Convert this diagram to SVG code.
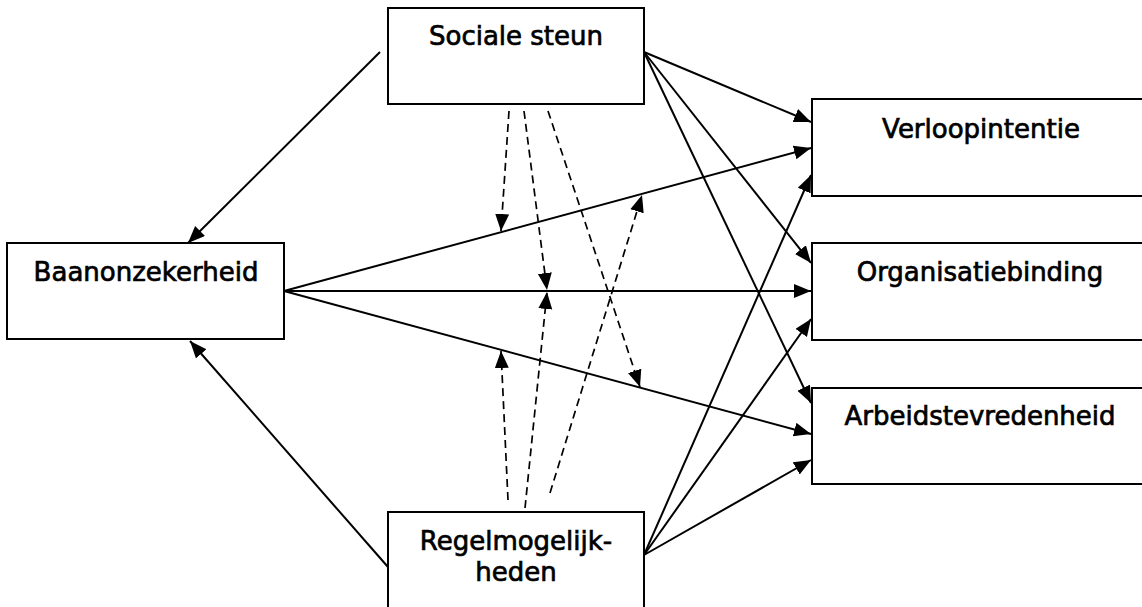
<svg xmlns="http://www.w3.org/2000/svg" width="1142" height="607" viewBox="0 0 1142 607">
<style>
.box{fill:#fff;stroke:#000;stroke-width:2}
.lbl{font-family:"DejaVu Sans",Verdana,sans-serif;font-size:26px;fill:#000;stroke:#000;stroke-width:0.7;text-anchor:middle}
.c{fill:none;stroke:#000;stroke-width:2;marker-end:url(#ah)}
.d{fill:none;stroke:#000;stroke-width:1.7;stroke-dasharray:8 5;marker-end:url(#ah)}
</style>
<defs>
<marker id="ah" markerUnits="userSpaceOnUse" markerWidth="19" markerHeight="16" refX="17" refY="7" orient="auto">
<path d="M0,0 L17,7 L0,14 z" fill="#000"/>
</marker>
</defs>
<rect width="1142" height="607" fill="#fff"/>
<g id="connectors">
<line class="c" x1="380" y1="52" x2="188" y2="243"/>
<line class="c" x1="388" y1="567" x2="190" y2="341"/>
<line class="c" x1="644" y1="52" x2="811" y2="122"/>
<line class="c" x1="644" y1="52" x2="811" y2="263"/>
<line class="c" x1="644" y1="52" x2="811" y2="403"/>
<line class="c" x1="284" y1="291" x2="811" y2="148"/>
<line class="c" x1="284" y1="291" x2="811" y2="291"/>
<line class="c" x1="284" y1="291" x2="811" y2="434"/>
<line class="c" x1="644" y1="555" x2="811" y2="175"/>
<line class="c" x1="644" y1="555" x2="811" y2="319"/>
<line class="c" x1="644" y1="555" x2="811" y2="460"/>
<line class="d" x1="509" y1="111" x2="501" y2="231"/>
<line class="d" x1="524" y1="111" x2="547" y2="290"/>
<line class="d" x1="548" y1="111" x2="640" y2="387"/>
<line class="d" x1="508" y1="500" x2="501" y2="351"/>
<line class="d" x1="525" y1="508" x2="547" y2="292"/>
<line class="d" x1="550" y1="493" x2="642" y2="195"/>
</g>
<g id="sociale-steun">
<rect class="box" x="388" y="8" width="256" height="96"/>
<text class="lbl" x="516" y="45">Sociale steun</text>
</g>
<g id="baanonzekerheid">
<rect class="box" x="7" y="243" width="277" height="96"/>
<text class="lbl" x="146" y="281">Baanonzekerheid</text>
</g>
<g id="regelmogelijkheden">
<rect class="box" x="388" y="512" width="256" height="100"/>
<text class="lbl" x="516" y="550">Regelmogelijk-</text>
<text class="lbl" x="516" y="581">heden</text>
</g>
<g id="verloopintentie">
<rect class="box" x="812" y="99" width="336" height="97"/>
<text class="lbl" x="981" y="138">Verloopintentie</text>
</g>
<g id="organisatiebinding">
<rect class="box" x="812" y="243" width="336" height="97"/>
<text class="lbl" x="980" y="281">Organisatiebinding</text>
</g>
<g id="arbeidstevredenheid">
<rect class="box" x="812" y="388" width="336" height="96"/>
<text class="lbl" x="980" y="425">Arbeidstevredenheid</text>
</g>
</svg>
